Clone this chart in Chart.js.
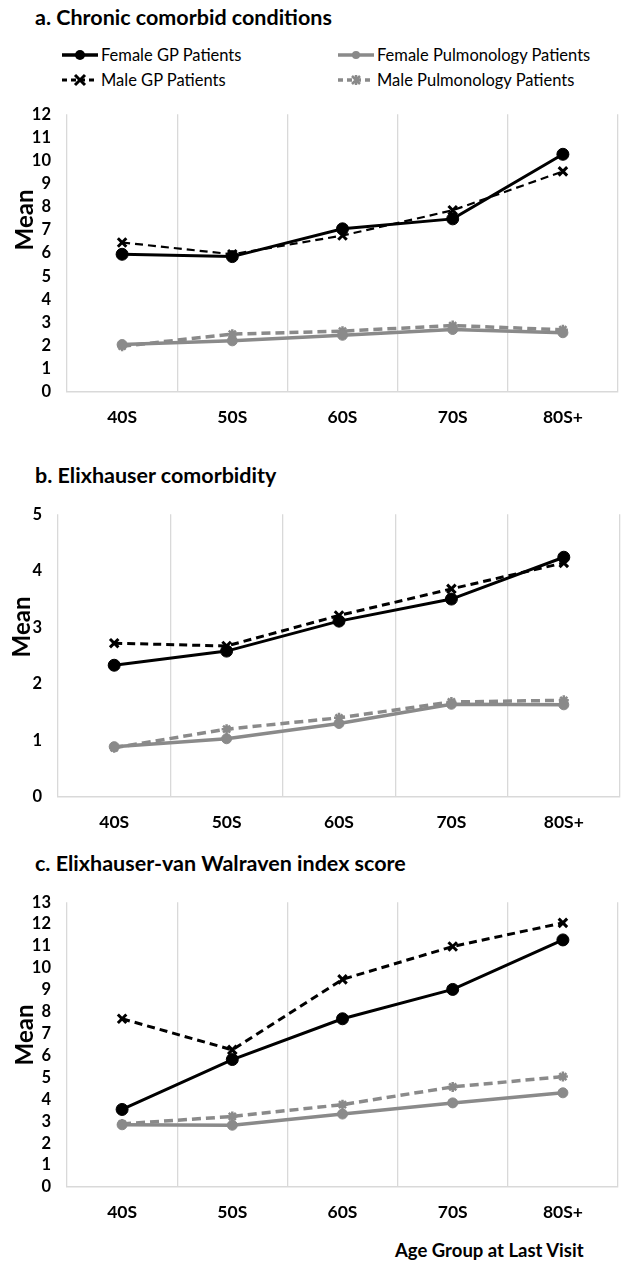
<!DOCTYPE html>
<html>
<head>
<meta charset="utf-8">
<script src="https://cdn.jsdelivr.net/npm/chart.js@4.4.0/dist/chart.umd.min.js"></script>
<style>
  html, body { margin: 0; padding: 0; background: #fff; }
  body { width: 629px; height: 1265px; position: relative; overflow: hidden; font-family: Lato, "Open Sans", sans-serif; color: #000; }
  .title { position: absolute; left: 35px; font-weight: bold; font-size: 21.5px; line-height: 26px; white-space: nowrap; }
  .box { position: absolute; left: 0; width: 629px; }
  .legend-item { position: absolute; font-size: 16.5px; line-height: 20px; white-space: nowrap; display: flex; align-items: center; }
  .legend-item svg { margin-right: 3px; }
  .ytitle { position: absolute; width: 100px; height: 30px; line-height: 30px; text-align: center; font-weight: bold; font-size: 24px; transform: rotate(-90deg); }
  #xtitle { position: absolute; left: 395px; top: 1238px; font-weight: bold; font-size: 18.5px; line-height: 24px; white-space: nowrap; }
</style>
</head>
<body>
<div class="title" style="top:4px">a. Chronic comorbid conditions</div>
<div id="legend"></div>
<div class="box" style="top:90px;height:345px"><canvas id="chartA"></canvas></div>
<div class="ytitle" style="left:-26px;top:205px">Mean</div>
<div class="title" style="top:462px">b. Elixhauser comorbidity</div>
<div class="box" style="top:490px;height:350px"><canvas id="chartB"></canvas></div>
<div class="ytitle" style="left:-29px;top:612px">Mean</div>
<div class="title" style="top:850px">c. Elixhauser-van Walraven index score</div>
<div class="box" style="top:878px;height:352px"><canvas id="chartC"></canvas></div>
<div class="ytitle" style="left:-26px;top:1020px">Mean</div>
<div id="xtitle">Age Group at Last Visit</div>
<script>
// ---- data ----
const categories = ['40S', '50S', '60S', '70S', '80S+'];
const seriesLabels = ['Female GP Patients', 'Male GP Patients', 'Female Pulmonology Patients', 'Male Pulmonology Patients'];

const chronicFemaleGP   = [5.95, 5.85, 7.05, 7.48, 10.27];
const chronicMaleGP     = [6.46, 5.95, 6.76, 7.85, 9.53];
const chronicFemalePulm = [2.05, 2.21, 2.45, 2.70, 2.56];
const chronicMalePulm   = [1.98, 2.50, 2.63, 2.87, 2.69];
const chronicTicks = [0, 12];

const elixFemaleGP   = [2.33, 2.58, 3.11, 3.50, 4.24];
const elixMaleGP     = [2.72, 2.67, 3.21, 3.68, 4.14];
const elixFemalePulm = [0.89, 1.03, 1.30, 1.64, 1.63];
const elixMalePulm   = [0.87, 1.20, 1.40, 1.68, 1.71];
const elixTicks = [0, 5];

const evwFemaleGP   = [3.54, 5.82, 7.68, 9.02, 11.28];
const evwMaleGP     = [7.68, 6.26, 9.48, 10.98, 12.06];
const evwFemalePulm = [2.84, 2.82, 3.33, 3.84, 4.30];
const evwMalePulm   = [2.88, 3.22, 3.76, 4.57, 5.04];
const evwTicks = [0, 13];

// ---- styles ----
const BLACK = '#000000';
const GRAY = '#8a8a8a';
const GRID = '#d9d9d9';

function datasets(fgp, mgp, fp, mp, maleGPWidth) {
  return [
    { label: seriesLabels[2], data: fp, borderColor: GRAY, backgroundColor: GRAY, borderWidth: 3.5,
      pointStyle: 'circle', pointRadius: 5, pointBorderWidth: 1, pointBackgroundColor: GRAY, pointBorderColor: GRAY },
    { label: seriesLabels[3], data: mp, borderColor: GRAY, backgroundColor: GRAY, borderWidth: 3.5, borderDash: [9, 5],
      pointStyle: 'star', pointRadius: 5, pointBorderWidth: 2.5, pointBorderColor: GRAY },
    { label: seriesLabels[1], data: mgp, borderColor: BLACK, backgroundColor: BLACK, borderWidth: maleGPWidth, borderDash: [8, 5],
      pointStyle: 'crossRot', pointRadius: 6, pointBorderWidth: 3, pointBorderColor: BLACK },
    { label: seriesLabels[0], data: fgp, borderColor: BLACK, backgroundColor: BLACK, borderWidth: 3,
      pointStyle: 'circle', pointRadius: 6, pointBorderWidth: 1, pointBackgroundColor: BLACK, pointBorderColor: BLACK }
  ];
}

function makeChart(id, ds, ticks, yWidth, padRight, padTop, xHeight) {
  return new Chart(document.getElementById(id), {
    type: 'line',
    data: { labels: categories, datasets: ds },
    options: {
      responsive: true,
      maintainAspectRatio: false,
      animation: false,
      events: [],
      layout: { padding: { left: 0, right: padRight, top: padTop, bottom: 0 } },
      plugins: { legend: { display: false }, tooltip: { enabled: false }, title: { display: false } },
      elements: { line: { tension: 0 } },
      scales: {
        x: {
          offset: true,
          grid: { display: true, offset: true, color: GRID, lineWidth: 1.3, drawTicks: false },
          border: { display: true, color: GRID, width: 1.5 },
          ticks: { color: BLACK, padding: 15, autoSkip: false, maxRotation: 0, font: { family: 'Lato', weight: 'bold', size: 17.5 } },
          afterFit: s => { s.height = xHeight; }
        },
        y: {
          min: ticks[0], max: ticks[1],
          grid: { display: false, drawTicks: false },
          border: { display: false },
          ticks: { stepSize: 1, autoSkip: false, color: BLACK, padding: 16, font: { family: 'Lato', weight: 'bold', size: 16.5, lineHeight: 1 } },
          title: { display: false },
          afterFit: s => { s.width = yWidth; }
        }
      }
    }
  });
}

makeChart('chartA', datasets(chronicFemaleGP, chronicMaleGP, chronicFemalePulm, chronicMalePulm, 2.2), chronicTicks, 67, 11, 15, 43);
makeChart('chartB', datasets(elixFemaleGP, elixMaleGP, elixFemalePulm, elixMalePulm, 3), elixTicks, 58, 7, 14, 43);
makeChart('chartC', datasets(evwFemaleGP, evwMaleGP, evwFemalePulm, evwMalePulm, 3), evwTicks, 67, 11, 14, 43);

// ---- legend (HTML) ----
const legendItems = [
  { label: seriesLabels[0], x: 62, y: 45, color: BLACK, dash: '', w: 3.5, marker: 'circle' },
  { label: seriesLabels[2], x: 338, y: 45, color: GRAY, dash: '', w: 3.5, marker: 'circle-small' },
  { label: seriesLabels[1], x: 62, y: 70, color: BLACK, dash: '5,4', w: 3, marker: 'x' },
  { label: seriesLabels[3], x: 338, y: 70, color: GRAY, dash: '5,4', w: 3.5, marker: 'star' }
];
const legend = document.getElementById('legend');
legendItems.forEach(it => {
  const d = document.createElement('div');
  d.className = 'legend-item';
  d.style.left = it.x + 'px';
  d.style.top = it.y + 'px';
  let m = '';
  if (it.marker === 'circle') m = `<circle cx="18" cy="10" r="5" fill="${it.color}"/>`;
  else if (it.marker === 'circle-small') m = `<circle cx="18" cy="10" r="4" fill="${it.color}"/>`;
  else if (it.marker === 'x') m = `<path d="M13 5 L23 15 M23 5 L13 15" stroke="${it.color}" stroke-width="3"/>`;
  else m = `<path d="M14 6 L22 14 M22 6 L14 14 M18 5 L18 15" stroke="${it.color}" stroke-width="2.5"/>`;
  d.innerHTML = `<svg width="36" height="20" viewBox="0 0 36 20"><line x1="0" y1="10" x2="36" y2="10" stroke="${it.color}" stroke-width="${it.w}" ${it.dash ? `stroke-dasharray="${it.dash}"` : ''}/>${m}</svg><span>${it.label}</span>`;
  legend.appendChild(d);
});
</script>
</body>
</html>
